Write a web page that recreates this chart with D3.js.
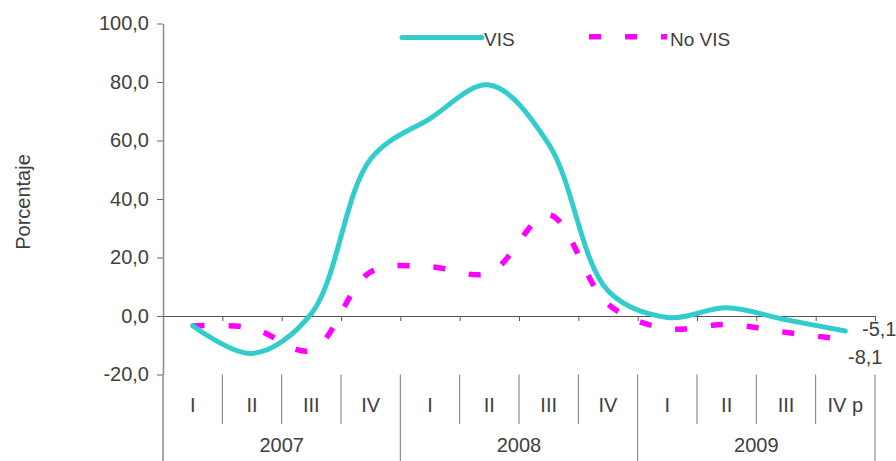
<!DOCTYPE html>
<html>
<head>
<meta charset="utf-8">
<script src="https://cdn.jsdelivr.net/npm/d3@7"></script>
<style>
  body { margin: 0; background: #fff; }
  text { font-family: "Liberation Sans", Arial, sans-serif; fill: #404040; }
</style>
</head>
<body>
<svg id="chart"></svg>
<script>
// data (percent change, quarterly)
var years = ["2007", "2008", "2009"];
var quarterLabels = ["I", "II", "III", "IV", "I", "II", "III", "IV", "I", "II", "III", "IV p"];
var vis = [-3.3, -12.8, 0.8, 53.7, 67.5, 79.0, 58.8, 8.6, -0.5, 2.8, -1.3, -5.1];
var noVis = [-3.4, -4.1, -11.8, 15.1, 16.8, 14.7, 34.6, 4.0, -4.3, -2.9, -5.6, -8.1];
var yTicks = [-20, 0, 20, 40, 60, 80, 100];

var svgWidth = 896, svgHeight = 461;
var plotLeft = 163, plotRight = 875, plotTop = 23.5, plotBottom = 374.5;

var svg = d3.select("#chart")
    .attr("width", svgWidth)
    .attr("height", svgHeight);

var loc = d3.formatLocale({ decimal: ",", thousands: ".", grouping: [3], currency: ["", ""], minus: "-" });
var fmt = loc.format(".1f");

//scales
var x = d3.scaleBand().domain(d3.range(quarterLabels.length)).range([plotLeft, plotRight]);
var xb = d3.scaleLinear().domain([0, quarterLabels.length]).range([plotLeft, plotRight]);
var y = d3.scaleLinear().domain([-20, 100]).range([plotBottom, plotTop]);
function cx(i) { return x(i) + x.bandwidth() / 2; }

//y axis
var yAxis = svg.append("g")
    .attr("transform", "translate(" + plotLeft + ",0)")
    .call(d3.axisLeft(y).tickValues(yTicks).tickSize(6).tickPadding(8).tickFormat(fmt).tickSizeOuter(0));
yAxis.select(".domain").attr("stroke", "#8a8a8a").attr("stroke-width", 1.5);
yAxis.selectAll(".tick line").attr("stroke", "#666");
yAxis.selectAll(".tick text").attr("font-size", 20).attr("fill", "#404040")
    .attr("font-family", "Liberation Sans, Arial, sans-serif");

//zero line with small ticks at quarter borders
var zAxis = svg.append("g")
    .attr("transform", "translate(0," + y(0) + ")")
    .call(d3.axisBottom(xb).tickValues(d3.range(1, quarterLabels.length + 1)).tickSize(5).tickSizeOuter(0).tickFormat(""));
zAxis.select(".domain").attr("stroke", "#555").attr("stroke-width", 1.2);
zAxis.selectAll(".tick line").attr("stroke", "#555");

//category separators below the plot
svg.append("line")
    .attr("x1", plotLeft).attr("x2", plotLeft)
    .attr("y1", plotBottom).attr("y2", svgHeight)
    .attr("stroke", "#8a8a8a").attr("stroke-width", 1.5);
svg.selectAll(".sep")
    .data(d3.range(1, quarterLabels.length + 1))
    .enter().append("line")
    .attr("class", "sep")
    .attr("x1", function (d) { return xb(d); })
    .attr("x2", function (d) { return xb(d); })
    .attr("y1", plotBottom)
    .attr("y2", function (d) { return d % 4 === 0 ? svgHeight : 424; })
    .attr("stroke", "#777")
    .attr("stroke-width", 1);

svg.selectAll(".qlab")
    .data(quarterLabels)
    .enter().append("text")
    .attr("class", "qlab")
    .attr("x", function (d, i) { return cx(i); })
    .attr("y", 412)
    .attr("text-anchor", "middle")
    .attr("font-size", 20)
    .text(function (d) { return d; });

svg.selectAll(".ylab")
    .data(years)
    .enter().append("text")
    .attr("class", "ylab")
    .attr("x", function (d, i) { return xb(i * 4 + 2); })
    .attr("y", 452)
    .attr("text-anchor", "middle")
    .attr("font-size", 20)
    .text(function (d) { return d; });

//axis title
svg.append("text")
    .attr("transform", "translate(30,202) rotate(-90)")
    .attr("text-anchor", "middle")
    .attr("font-size", 20)
    .text("Porcentaje");

//lines
var line = d3.line()
    .x(function (d, i) { return cx(i); })
    .y(function (d) { return y(d); })
    .curve(d3.curveCatmullRom.alpha(0.5));

svg.append("path")
    .datum(noVis)
    .attr("fill", "none")
    .attr("stroke", "#ff00ff")
    .attr("stroke-width", 5.5)
    .attr("stroke-dasharray", "12,24")
    .attr("d", line);

svg.append("path")
    .datum(vis)
    .attr("fill", "none")
    .attr("stroke", "#33cccc")
    .attr("stroke-width", 5)
    .attr("stroke-linejoin", "round")
    .attr("stroke-linecap", "round")
    .attr("d", line);

//end labels
var last = vis.length - 1;
svg.append("text")
    .attr("x", 862).attr("y", y(vis[last]) + 5)
    .attr("font-size", 20)
    .text(fmt(vis[last]));
svg.append("text")
    .attr("x", 848).attr("y", y(noVis[last]) + 24)
    .attr("font-size", 20)
    .text(fmt(noVis[last]));

//legend
svg.append("line")
    .attr("x1", 402).attr("x2", 482).attr("y1", 37.5).attr("y2", 37.5)
    .attr("stroke", "#33cccc").attr("stroke-width", 5).attr("stroke-linecap", "round");
svg.append("text").attr("x", 484).attr("y", 46).attr("font-size", 19).text("VIS");
svg.append("line")
    .attr("x1", 589).attr("x2", 667).attr("y1", 36.7).attr("y2", 36.7)
    .attr("stroke", "#ff00ff").attr("stroke-width", 5.5).attr("stroke-dasharray", "12,24");
svg.append("text").attr("x", 670).attr("y", 46).attr("font-size", 19).text("No VIS");
</script>
</body>
</html>
